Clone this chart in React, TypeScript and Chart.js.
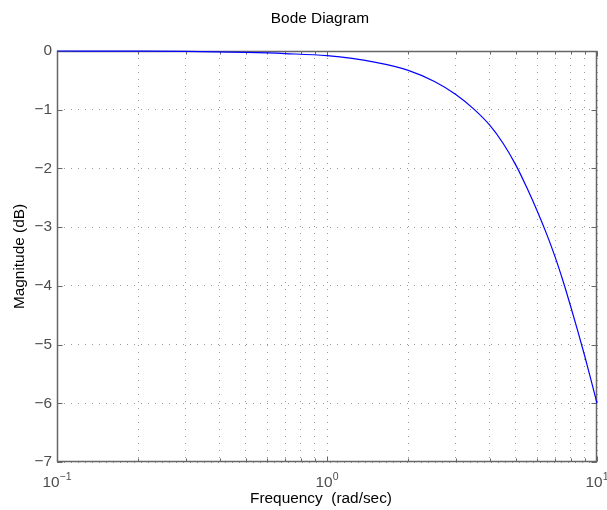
import React, { useEffect, useRef } from 'react';
import { Chart, registerables } from 'chart.js';

Chart.register(...registerables);

// Frequency (rad/sec) and magnitude (dB)
const frequencies = [0.1, 0.2, 0.3, 0.5, 0.7, 1, 1.5, 2, 2.5, 3, 3.5, 4, 4.5, 5, 5.5, 6, 6.5, 7, 7.5, 8, 8.5, 9, 9.5, 10];
const magnitudes = [0, -0.003, -0.008, -0.025, -0.045, -0.08, -0.19, -0.33, -0.52, -0.74, -0.99, -1.26, -1.58, -1.94, -2.33, -2.72, -3.11, -3.51, -3.93, -4.36, -4.78, -5.19, -5.6, -6.0];

const xGridTicks = [0.1, 0.2, 0.3, 0.4, 0.5, 0.6, 0.7, 0.8, 0.9, 1, 2, 3, 4, 5, 6, 7, 8, 9, 10];
const xMajorTicks = [0.1, 1, 10];
const xMajorExponents = ['\u22121', '0', '1'];
const yTicks = [-7, -6, -5, -4, -3, -2, -1, 0];

const titleText = 'Bode Diagram';
const xTitleText = 'Frequency  (rad/sec)';
const yTitleText = 'Magnitude (dB)';

const FONT = '"Liberation Sans", Arial, Helvetica, sans-serif';
const AXIS_COLOR = '#666666';
const LABEL_COLOR = '#4d4d4d';

const decorPlugin = {
  id: 'decor',
  beforeDatasetsDraw(chart: any) {
    const { ctx, chartArea: a, scales } = chart;
    const xs = scales.x;
    const ys = scales.y;
    ctx.save();
    ctx.strokeStyle = AXIS_COLOR;
    ctx.lineWidth = 1.5;
    const L = Math.round(a.left) + 0.5;
    const R = Math.round(a.right) - 0.5;
    const T = Math.round(a.top) + 0.5;
    const B = Math.round(a.bottom) - 0.5;
    ctx.strokeRect(L, T, R - L, B - T);
    ctx.lineWidth = 1;
    ctx.beginPath();
    xGridTicks.forEach((v) => {
      const px = Math.round(xs.getPixelForValue(v)) + 0.5;
      const len = xMajorTicks.includes(v) ? 5 : 3;
      ctx.moveTo(px, B);
      ctx.lineTo(px, B - len);
      ctx.moveTo(px, T);
      ctx.lineTo(px, T + len);
    });
    yTicks.forEach((v) => {
      const py = Math.round(ys.getPixelForValue(v)) + 0.5;
      ctx.moveTo(L, py);
      ctx.lineTo(L + 5, py);
      ctx.moveTo(R, py);
      ctx.lineTo(R - 5, py);
    });
    ctx.stroke();
    ctx.restore();
  },
  afterDraw(chart: any) {
    const { ctx, chartArea: a, scales } = chart;
    const xs = scales.x;
    ctx.save();
    // x major tick labels with superscript exponents
    ctx.fillStyle = LABEL_COLOR;
    ctx.textBaseline = 'alphabetic';
    ctx.textAlign = 'left';
    xMajorTicks.forEach((v, i) => {
      const px = xs.getPixelForValue(v);
      ctx.font = `15.4px ${FONT}`;
      const wBase = ctx.measureText('10').width;
      ctx.font = `10.5px ${FONT}`;
      const wExp = ctx.measureText(xMajorExponents[i]).width;
      const start = px - (wBase + wExp) / 2;
      ctx.font = `15.4px ${FONT}`;
      ctx.fillText('10', start, 487);
      ctx.font = `10.5px ${FONT}`;
      ctx.fillText(xMajorExponents[i], start + wBase, 480);
    });

    // titles
    ctx.fillStyle = '#000000';
    ctx.font = `15.4px ${FONT}`;
    ctx.textAlign = 'center';
    ctx.textBaseline = 'alphabetic';
    ctx.fillText(titleText, 320, 23);
    ctx.fillText(xTitleText, 321, 503);
    ctx.translate(24, (a.top + a.bottom) / 2);
    ctx.rotate(-Math.PI / 2);
    ctx.fillText(yTitleText, 0, 0);
    ctx.restore();
  },
};

export default function App() {
  const ref = useRef<HTMLCanvasElement | null>(null);
  useEffect(() => {
    document.body.style.margin = '0';
    const canvas = ref.current;
    if (!canvas) return;
    const chart = new Chart(canvas, {
      type: 'line',
      data: {
        datasets: [
          {
            data: frequencies.map((f, i) => ({ x: f, y: magnitudes[i] })),
            borderColor: '#0000ff',
            borderWidth: 1.2,
            pointRadius: 0,
            fill: false,
            clip: 3,
            cubicInterpolationMode: 'monotone',
          },
        ],
      },
      options: {
        responsive: false,
        animation: false,
        devicePixelRatio: 1,
        layout: { padding: { top: 51, right: 10, left: 0, bottom: 0 } },
        plugins: {
          legend: { display: false },
          title: { display: false },
          tooltip: { enabled: false },
        },
        scales: {
          x: {
            type: 'logarithmic',
            min: 0.1,
            max: 10,
            afterBuildTicks: (scale: any) => {
              scale.ticks = xGridTicks.map((v) => ({ value: v, major: xMajorTicks.includes(v) }));
            },
            afterFit: (scale: any) => {
              scale.height = 48;
            },
            ticks: { display: false, autoSkip: false },
            grid: { color: '#9a9a9a', lineWidth: 1, drawTicks: false },
            border: { display: false, dash: [1, 6] },
          },
          y: {
            type: 'linear',
            min: -7,
            max: 0,
            afterBuildTicks: (scale: any) => {
              scale.ticks = yTicks.map((v) => ({ value: v }));
            },
            afterFit: (scale: any) => {
              scale.width = 57;
            },
            ticks: {
              padding: 5,
              color: LABEL_COLOR,
              font: { family: FONT, size: 15.4 },
              callback: (v: any) => (Number(v) === 0 ? '0' : '\u2212' + Math.abs(Number(v))),
            },
            grid: { color: '#9a9a9a', lineWidth: 1, drawTicks: false },
            border: { display: false, dash: [1, 6] },
          },
        },
      },
      plugins: [decorPlugin],
    });
    return () => chart.destroy();
  }, []);
  return <canvas ref={ref} width={607} height={510} style={{ display: 'block' }} />;
}
